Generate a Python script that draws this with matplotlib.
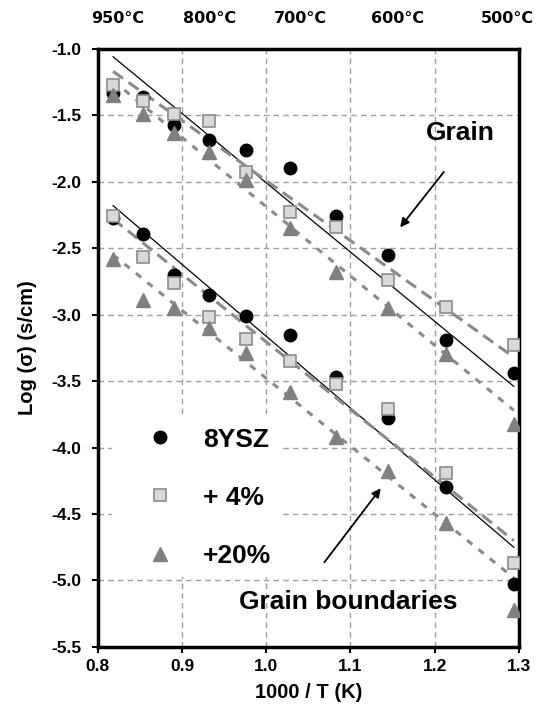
import numpy as np
import matplotlib
matplotlib.use("Agg")
import matplotlib.pyplot as plt

plt.rcParams['font.family'] = ['Liberation Sans', 'DejaVu Sans']
plt.rcParams['font.weight'] = 'bold'

# 1000/T for 950, 900, ..., 500 °C
inv_t = [0.818, 0.853, 0.890, 0.932, 0.976, 1.028, 1.083, 1.145, 1.214, 1.294]

# grain (bulk) conductivity
grain_8ysz = [-1.33, -1.36, -1.57, -1.69, -1.76, -1.90, -2.26, -2.55, -3.19, -3.44]
grain_4 = [-1.27, -1.39, -1.49, -1.54, -1.93, -2.23, -2.34, -2.74, -2.94, -3.23]
grain_20 = [-1.35, -1.49, -1.63, -1.78, -1.99, -2.35, -2.68, -2.95, -3.30, -3.82]

# grain boundary conductivity
gb_8ysz = [-2.27, -2.39, -2.70, -2.85, -3.01, -3.15, -3.47, -3.78, -4.30, -5.03]
gb_4 = [-2.26, -2.57, -2.76, -3.02, -3.18, -3.35, -3.52, -3.71, -4.19, -4.87]
gb_20 = [-2.58, -2.89, -2.95, -3.10, -3.29, -3.58, -3.92, -4.18, -4.57, -5.22]

# linear trend lines, value at the first and last temperature
fit_x = [0.818, 1.294]
fit_grain_8ysz = [-1.06, -3.54]
fit_grain_4 = [-1.17, -3.32]
fit_grain_20 = [-1.24, -3.72]
fit_gb_8ysz = [-2.18, -4.75]
fit_gb_4 = [-2.28, -4.70]
fit_gb_20 = [-2.55, -4.98]

top_pos = [0.824, 0.933, 1.040, 1.156, 1.286]
top_labels = ['950°C', '800°C', '700°C', '600°C', '500°C']

fig = plt.figure(figsize=(5.41, 7.07), dpi=100)
ax = fig.add_axes([0.181, 0.085, 0.778, 0.846])

solid = dict(color='black', lw=0.9)
dash4 = dict(color='#8a8a8a', lw=2.2, dashes=(4, 2.2))
dash20 = dict(color='#8a8a8a', lw=2.2, dashes=(2.2, 2.6))

for fy, style in [(fit_grain_8ysz, solid), (fit_grain_4, dash4), (fit_grain_20, dash20),
                  (fit_gb_8ysz, solid), (fit_gb_4, dash4), (fit_gb_20, dash20)]:
    ax.plot(fit_x, fy, zorder=2, **style)

circ = dict(ls='none', marker='o', ms=9, mfc='black', mec='black', zorder=3)
sq = dict(ls='none', marker='s', ms=9, mfc='#d9d9d9', mec='#8c8c8c', mew=1.2, zorder=4)
tri = dict(ls='none', marker='^', ms=10, mfc='#808080', mec='#808080', zorder=5)

h1, = ax.plot(inv_t, grain_8ysz, label='8YSZ', **circ)
h2, = ax.plot(inv_t, grain_4, label='+ 4%', **sq)
h3, = ax.plot(inv_t, grain_20, label='+20%', **tri)
ax.plot(inv_t, gb_8ysz, **circ)
ax.plot(inv_t, gb_4, **sq)
ax.plot(inv_t, gb_20, **tri)

ax.set_xlim(0.8, 1.3)
ax.set_ylim(-5.5, -1.0)
ax.set_xticks(np.arange(0.8, 1.31, 0.1))
ax.set_yticks(np.arange(-5.5, -0.99, 0.5))
ax.xaxis.set_major_formatter(plt.FormatStrFormatter('%.1f'))
ax.yaxis.set_major_formatter(plt.FormatStrFormatter('%.1f'))
ax.grid(True, color='#a0a0a0', lw=1.0, ls=(0, (4, 3)))
ax.set_axisbelow(True)
ax.tick_params(direction='out', length=4, width=1.5, labelsize=12.5)
ax.tick_params(axis='x', pad=4.5)
ax.tick_params(axis='y', pad=8)
for s in ax.spines.values():
    s.set_linewidth(2.5)

ax.set_xlabel('1000 / T (K)', fontsize=14.5, fontweight='bold', labelpad=7)
ax.set_ylabel('Log (σ) (s/cm)', fontsize=14.5, fontweight='bold', labelpad=10)

top = ax.secondary_xaxis('top')
top.set_xticks(top_pos)
top.set_xticklabels(top_labels, family='DejaVu Sans', fontweight='bold')
top.tick_params(length=0, pad=16.5, labelsize=11.5)
top.spines['top'].set_visible(False)

leg = ax.legend(handles=[h1, h2, h3], loc='upper left',
                bbox_to_anchor=(0.033, 0.382), borderaxespad=0,
                borderpad=0.35, handlelength=2.95, handletextpad=0.15,
                labelspacing=1.29, numpoints=1, fontsize=19,
                frameon=True, framealpha=1, facecolor='white',
                edgecolor='none', fancybox=False)
leg.set_zorder(6)
for t in leg.get_texts():
    t.set_fontweight('bold')

ax.text(1.230, -1.632, 'Grain', fontsize=19, fontweight='bold',
        ha='center', va='center', zorder=7)
ax.annotate('', xy=(1.157, -2.36), xytext=(1.213, -1.91),
            arrowprops=dict(arrowstyle='-|>', color='black', lw=1.3,
                            mutation_scale=13), zorder=7)

ax.text(1.097, -5.16, 'Grain boundaries', fontsize=19, fontweight='bold',
        ha='center', va='center', zorder=7)
ax.annotate('', xy=(1.138, -4.29), xytext=(1.067, -4.88),
            arrowprops=dict(arrowstyle='-|>', color='black', lw=1.3,
                            mutation_scale=13), zorder=7)

fig.savefig('out.png', dpi=100)
